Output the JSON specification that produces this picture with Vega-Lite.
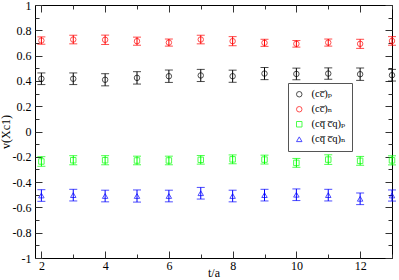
{
  "$schema": "https://vega.github.io/schema/vega-lite/v6.json",
  "width": 357,
  "height": 253,
  "autosize": "none",
  "padding": {"left": 35, "top": 5, "right": 7, "bottom": 22},
  "config": {
    "font": "Liberation Serif, Times New Roman, DejaVu Serif, serif",
    "view": {"stroke": "#000", "strokeWidth": 1},
    "axis": {
      "labelFont": "Liberation Serif, Times New Roman, DejaVu Serif, serif", "labelFontSize": 12, "labelColor": "#000",
      "titleFont": "Liberation Serif, Times New Roman, DejaVu Serif, serif", "titleFontSize": 12, "titleFontWeight": "normal", "titleColor": "#000",
      "domain": false, "grid": false, "tickColor": "#333", "tickWidth": 1
    },
    "legend": {"labelFont": "Liberation Serif, Times New Roman, DejaVu Serif, serif", "labelFontSize": 10.5, "labelColor": "#000",
               "orient": "none", "legendX": 253, "legendY": 78, "padding": 6, "rowPadding": 4,
               "symbolSize": 30, "symbolStrokeWidth": 1, "strokeColor": "#555", "fillColor": "#fff", "labelOffset": 7, "cornerRadius": 0}
  },
  "data": {"values": [
    {"s": "(cc̅)ₚ", "t": 2, "v": 0.417, "e": 0.046},
    {"s": "(cc̅)ₚ", "t": 3, "v": 0.417, "e": 0.046},
    {"s": "(cc̅)ₚ", "t": 4, "v": 0.409, "e": 0.048},
    {"s": "(cc̅)ₚ", "t": 5, "v": 0.424, "e": 0.049},
    {"s": "(cc̅)ₚ", "t": 6, "v": 0.437, "e": 0.049},
    {"s": "(cc̅)ₚ", "t": 7, "v": 0.443, "e": 0.048},
    {"s": "(cc̅)ₚ", "t": 8, "v": 0.437, "e": 0.048},
    {"s": "(cc̅)ₚ", "t": 9, "v": 0.458, "e": 0.048},
    {"s": "(cc̅)ₚ", "t": 10, "v": 0.455, "e": 0.046},
    {"s": "(cc̅)ₚ", "t": 11, "v": 0.458, "e": 0.045},
    {"s": "(cc̅)ₚ", "t": 12, "v": 0.453, "e": 0.049},
    {"s": "(cc̅)ₚ", "t": 13, "v": 0.445, "e": 0.046},
    {"s": "(cc̅)ₙ", "t": 2, "v": 0.719, "e": 0.029},
    {"s": "(cc̅)ₙ", "t": 3, "v": 0.727, "e": 0.034},
    {"s": "(cc̅)ₙ", "t": 4, "v": 0.725, "e": 0.037},
    {"s": "(cc̅)ₙ", "t": 5, "v": 0.714, "e": 0.032},
    {"s": "(cc̅)ₙ", "t": 6, "v": 0.703, "e": 0.028},
    {"s": "(cc̅)ₙ", "t": 7, "v": 0.727, "e": 0.034},
    {"s": "(cc̅)ₙ", "t": 8, "v": 0.714, "e": 0.036},
    {"s": "(cc̅)ₙ", "t": 9, "v": 0.701, "e": 0.028},
    {"s": "(cc̅)ₙ", "t": 10, "v": 0.693, "e": 0.026},
    {"s": "(cc̅)ₙ", "t": 11, "v": 0.703, "e": 0.028},
    {"s": "(cc̅)ₙ", "t": 12, "v": 0.693, "e": 0.036},
    {"s": "(cc̅)ₙ", "t": 13, "v": 0.716, "e": 0.034},
    {"s": "(cq̅ c̅q)ₚ", "t": 2, "v": -0.237, "e": 0.038},
    {"s": "(cq̅ c̅q)ₚ", "t": 3, "v": -0.227, "e": 0.036},
    {"s": "(cq̅ c̅q)ₚ", "t": 4, "v": -0.227, "e": 0.036},
    {"s": "(cq̅ c̅q)ₚ", "t": 5, "v": -0.229, "e": 0.034},
    {"s": "(cq̅ c̅q)ₚ", "t": 6, "v": -0.229, "e": 0.034},
    {"s": "(cq̅ c̅q)ₚ", "t": 7, "v": -0.224, "e": 0.034},
    {"s": "(cq̅ c̅q)ₚ", "t": 8, "v": -0.22, "e": 0.035},
    {"s": "(cq̅ c̅q)ₚ", "t": 9, "v": -0.222, "e": 0.035},
    {"s": "(cq̅ c̅q)ₚ", "t": 10, "v": -0.248, "e": 0.035},
    {"s": "(cq̅ c̅q)ₚ", "t": 11, "v": -0.222, "e": 0.038},
    {"s": "(cq̅ c̅q)ₚ", "t": 12, "v": -0.232, "e": 0.035},
    {"s": "(cq̅ c̅q)ₚ", "t": 13, "v": -0.228, "e": 0.036},
    {"s": "(cq̅ c̅q)ₙ", "t": 2, "v": -0.506, "e": 0.046},
    {"s": "(cq̅ c̅q)ₙ", "t": 3, "v": -0.503, "e": 0.046},
    {"s": "(cq̅ c̅q)ₙ", "t": 4, "v": -0.51, "e": 0.046},
    {"s": "(cq̅ c̅q)ₙ", "t": 5, "v": -0.51, "e": 0.048},
    {"s": "(cq̅ c̅q)ₙ", "t": 6, "v": -0.51, "e": 0.046},
    {"s": "(cq̅ c̅q)ₙ", "t": 7, "v": -0.488, "e": 0.046},
    {"s": "(cq̅ c̅q)ₙ", "t": 8, "v": -0.51, "e": 0.046},
    {"s": "(cq̅ c̅q)ₙ", "t": 9, "v": -0.503, "e": 0.046},
    {"s": "(cq̅ c̅q)ₙ", "t": 10, "v": -0.5, "e": 0.046},
    {"s": "(cq̅ c̅q)ₙ", "t": 11, "v": -0.503, "e": 0.046},
    {"s": "(cq̅ c̅q)ₙ", "t": 12, "v": -0.532, "e": 0.046},
    {"s": "(cq̅ c̅q)ₙ", "t": 13, "v": -0.506, "e": 0.044}
  ]},
  "layer": [
    {
      "mark": {"type": "errorbar", "ticks": {"size": 8}, "thickness": 1},
      "encoding": {
        "x": {"field": "t", "type": "quantitative", "title": "t/a",
              "scale": {"domain": [1.8, 13], "nice": false, "zero": false},
              "axis": {"orient": "bottom", "values": [2,3,4,5,6,7,8,9,10,11,12,13],
                       "labelExpr": "datum.value % 2 == 0 ? datum.label : ''",
                       "tickSize": {"condition": {"test": "datum.value % 2 != 0", "value": -4}, "value": -7},
                       "labelPadding": 9, "titlePadding": -4, "labelFlush": false}},
        "y": {"field": "v", "type": "quantitative", "title": "v(Xc1)",
              "scale": {"domain": [-1, 1], "nice": false},
              "axis": {"orient": "left", "values": [-1,-0.9,-0.8,-0.7,-0.6,-0.5,-0.4,-0.3,-0.2,-0.1,0,0.1,0.2,0.3,0.4,0.5,0.6,0.7,0.8,0.9,1],
                       "labelExpr": "abs(round(datum.value*10)) % 2 == 0 ? replace(format(datum.value, '.1~f'), '\u2212', '-') : ''",
                       "tickSize": {"condition": {"test": "abs(round(datum.value*10)) % 2 == 1", "value": -4}, "value": -7},
                       "labelPadding": 11, "titlePadding": 0, "labelFlush": false}},
        "yError": {"field": "e"},
        "color": {"field": "s", "type": "nominal", "title": null, "legend": null,
                  "scale": {"domain": ["(cc̅)ₚ", "(cc̅)ₙ", "(cq̅ c̅q)ₚ", "(cq̅ c̅q)ₙ"], "range": ["#000000", "#ff0000", "#00ff00", "#0000ff"]}}
      }
    },
    {
      "mark": {"type": "point", "filled": false, "size": 30, "strokeWidth": 1},
      "encoding": {
        "x": {"field": "t", "type": "quantitative",
              "scale": {"domain": [1.8, 13], "nice": false, "zero": false},
              "axis": {"orient": "top", "values": [2,3,4,5,6,7,8,9,10,11,12,13], "labels": false, "title": null,
                       "tickSize": {"condition": {"test": "datum.value % 2 != 0", "value": -4}, "value": -7}}},
        "y": {"field": "v", "type": "quantitative",
              "scale": {"domain": [-1, 1], "nice": false},
              "axis": {"orient": "right", "values": [-1,-0.9,-0.8,-0.7,-0.6,-0.5,-0.4,-0.3,-0.2,-0.1,0,0.1,0.2,0.3,0.4,0.5,0.6,0.7,0.8,0.9,1], "labels": false, "title": null,
                       "tickSize": {"condition": {"test": "abs(round(datum.value*10)) % 2 == 1", "value": -4}, "value": -7}}},
        "color": {"field": "s", "type": "nominal", "title": null,
                  "scale": {"domain": ["(cc̅)ₚ", "(cc̅)ₙ", "(cq̅ c̅q)ₚ", "(cq̅ c̅q)ₙ"], "range": ["#000000", "#ff0000", "#00ff00", "#0000ff"]}},
        "shape": {"field": "s", "type": "nominal", "title": null,
                  "scale": {"domain": ["(cc̅)ₚ", "(cc̅)ₙ", "(cq̅ c̅q)ₚ", "(cq̅ c̅q)ₙ"], "range": ["circle", "circle", "square", "triangle-up"]}}
      }
    }
  ],
  "resolve": {
    "axis": {"x": "independent", "y": "independent"},
    "scale": {"color": "independent"},
    "legend": {"color": "independent", "shape": "independent"}
  }
}
